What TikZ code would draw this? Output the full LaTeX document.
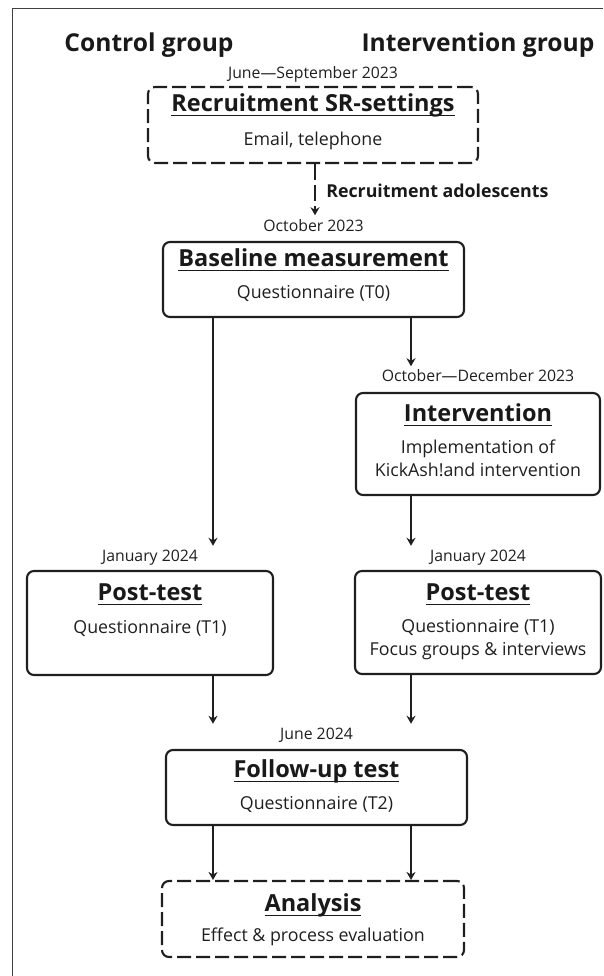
\documentclass[tikz,border=0pt]{standalone}
\usepackage{fontspec}
\setmainfont{Open Sans}
\usetikzlibrary{arrows.meta, calc}

% title with a flat underline through the descenders
\newcommand\ttl[1]{\setbox0=\hbox{#1}\rlap{\rule[-4pt]{\wd0}{1.2pt}}\box0}

\begin{document}
\begin{tikzpicture}[
		x=1pt, y=-1pt, % pixel-like units, y pointing down
		ink/.style={draw=black!88, line width=2.1pt},
		solidbox/.style={ink, rounded corners=7pt, inner sep=0pt},
		dashbox/.style={solidbox, dash pattern=on 14pt off 5pt},
		grouptxt/.style={font=\fontsize{24.6}{28}\selectfont\bfseries, text=black!90, anchor=base},
		ttltxt/.style={font=\fontsize{23.5}{27}\selectfont\bfseries, text=black!90, anchor=base},
		subtxt/.style={font=\fontsize{17.8}{23.5}\selectfont, text=black!88, anchor=base, align=center},
		datetxt/.style={font=\fontsize{15.8}{18}\selectfont, text=black!88, anchor=base, inner sep=1.5pt},
		arr/.style={ink, line width=1.9pt, -{Stealth[length=8pt,width=9pt]}},
		]
		
		\useasboundingbox (0,0) rectangle (603,976);
		
		% --- frame and column heads ---
		\draw[black!75, line width=0.9pt] (603,8) -- (12,8) -- (12,976);
		\node[grouptxt] (ctrl) at (149,52) {Control group};
		\node[grouptxt] (intg) at (478,52) {Intervention group};
		
		\coordinate (lcol) at (213,0);
		\coordinate (rcol) at (411,0);
		
		% --- boxes ---
		\node[dashbox, minimum width=330pt, minimum height=76pt] (rec) at (313,125) {};
		\node[solidbox, minimum width=301pt, minimum height=75pt] (base) at (313.5,279.5) {};
		\node[solidbox, minimum width=244pt, minimum height=102pt] (interv) at (478,444) {};
		\node[solidbox, minimum width=246pt, minimum height=104pt] (postC) at (150,623) {};
		\node[solidbox, minimum width=246pt, minimum height=103pt] (postI) at (478,622.5) {};
		\node[solidbox, minimum width=301pt, minimum height=75pt] (follow) at (316.5,787.5) {};
		\node[dashbox, minimum width=302pt, minimum height=76pt] (anal) at (313,919) {};
		
		% --- dates ---
		\node[datetxt] (jun23) at ([yshift=7pt]rec.north) {June—September 2023};
		\node[datetxt] (oct23) at ([yshift=9pt]base.north) {October 2023};
		\node[datetxt] (octdec) at ([yshift=10pt]interv.north) {October—December 2023};
		\node[datetxt] (janC) at ([yshift=8pt]postC.north) {January 2024};
		\node[datetxt] (janI) at ([yshift=8pt]postI.north) {January 2024};
		\node[datetxt] (jun24) at ([yshift=9pt]follow.north) {June 2024};
		
		% --- box texts (two-line texts sit on their last baseline) ---
		\node[ttltxt] (rec-t) at ([yshift=-26pt]rec.north) {\ttl{Recruitment SR-settings}};
		\node[subtxt] (rec-s) at ([yshift=-60pt]rec.north) {Email, telephone};
		
		\node[ttltxt] (base-t) at ([yshift=-26pt]base.north) {\ttl{Baseline measurement}};
		\node[subtxt] (base-s) at ([yshift=-58pt]base.north) {Questionnaire (T0)};
		
		\node[ttltxt] (interv-t) at ([yshift=-30pt]interv.north) {\ttl{Intervention}};
		\node[subtxt] (interv-s) at ([yshift=-85pt]interv.north) {Implementation of\\KickAsh!and intervention};
		
		\node[ttltxt] (postC-t) at ([yshift=-31pt]postC.north) {\ttl{Post-test}};
		\node[subtxt] (postC-s) at ([yshift=-64pt]postC.north) {Questionnaire (T1)};
		
		\node[ttltxt] (postI-t) at ([yshift=-31pt]postI.north) {\ttl{Post-test}};
		\node[subtxt] (postI-s) at ([yshift=-86pt]postI.north) {Questionnaire (T1)\\Focus groups \& interviews};
		
		\node[ttltxt] (follow-t) at ([yshift=-29pt]follow.north) {\ttl{Follow-up test}};
		\node[subtxt] (follow-s) at ([yshift=-61pt]follow.north) {Questionnaire (T2)};
		
		\node[ttltxt] (anal-t) at ([yshift=-32pt]anal.north) {\ttl{Analysis}};
		\node[subtxt] (anal-s) at ([yshift=-62pt]anal.north) {Effect \& process evaluation};
		
		% --- arrows ---
		\draw[arr, dash pattern=on 16pt off 5pt, shorten >=3pt] ([xshift=2pt]rec.south) -- node[right=7pt, font=\fontsize{17.8}{20}\selectfont\bfseries, text=black!90] (adol) {Recruitment adolescents} ([xshift=2pt]rec.south |- oct23.north);
		\draw[arr, shorten >=3pt] (base.south -| lcol) -- (janC.north -| lcol);
		\draw[arr, shorten >=2pt] (base.south -| rcol) -- (octdec.north -| rcol);
		\draw[arr, shorten >=3pt] (interv.south -| rcol) -- (janI.north -| rcol);
		\draw[arr, shorten >=3pt] (postC.south -| lcol) -- (jun24.north -| lcol);
		\draw[arr, shorten >=3pt] (postI.south -| rcol) -- (jun24.north -| rcol);
		\draw[arr] (follow.south -| lcol) -- (anal.north -| lcol);
		\draw[arr] (follow.south -| rcol) -- (anal.north -| rcol);
		
	\end{tikzpicture}
\end{document}
